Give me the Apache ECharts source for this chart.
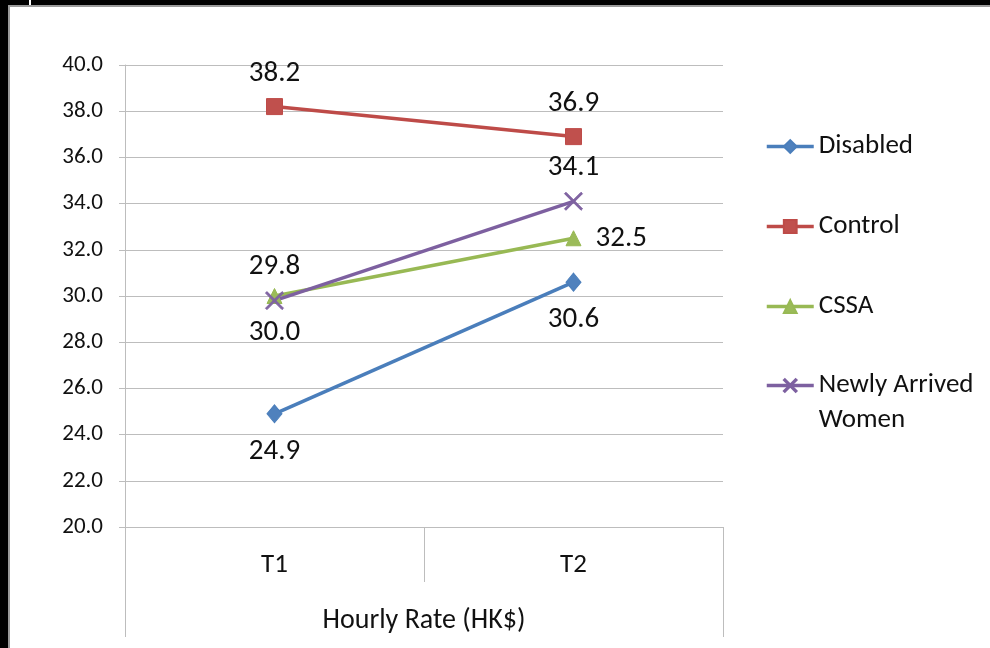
<!DOCTYPE html>
<html>
<head>
<meta charset="utf-8">
<style>
  html, body { margin: 0; padding: 0; background: #fff; }
  #chart { width: 990px; height: 648px; }
</style>
<script src="https://cdn.jsdelivr.net/npm/echarts@6/dist/echarts.min.js"></script>
</head>
<body>
<div id="chart"></div>
<script>
// Hourly rate by group, two time points
const categories = ['T1', 'T2'];
const groupTitle = 'Hourly Rate (HK$)';
const disabled = [24.9, 30.6];
const control = [38.2, 36.9];
const cssa = [30.0, 32.5];
const newlyArrived = [29.8, 34.1];
const yTicks = { min: 20, max: 40, step: 2 };

const FONT = 'Carlito, Lato, sans-serif';
const GRID_COLOR = '#bdbdbd';
const TEXT_COLOR = '#111';

// thin "x" marker
const crossPath = 'path://M0,0.8L0.8,0L10,9.2L9.2,10Z M9.2,0L10,0.8L0.8,10L0,9.2Z';

// label placement per point; labels below or beside a mark sit a little further out
function withLabels(values, positions) {
  return values.map((v, i) => ({
    value: v,
    label: { position: positions[i], distance: positions[i] === 'top' ? 10 : 14 }
  }));
}

function lineSeries(name, values, positions, lineColor, markColor, symbol, size) {
  return {
    name: name,
    type: 'line',
    data: withLabels(values, positions),
    symbol: symbol,
    symbolSize: size,
    showAllSymbol: true,
    lineStyle: { color: lineColor, width: 3.5 },
    itemStyle: { color: markColor, borderColor: lineColor, borderWidth: 1 },
    label: {
      show: true,
      fontFamily: FONT,
      fontSize: 29,
      color: TEXT_COLOR,
      formatter: p => p.value.toFixed(1)
    },
    emphasis: { disabled: true },
    z: 3
  };
}

function legendAt(name, top, formatter) {
  return {
    data: [name],
    orient: 'vertical',
    left: 765,
    top: top,
    padding: 0,
    itemWidth: 47,
    itemHeight: 16,
    selectedMode: false,
    formatter: formatter || '{name}',
    lineStyle: { width: 3.5 },
    textStyle: {
      fontFamily: FONT,
      fontSize: 27,
      lineHeight: 35,
      color: TEXT_COLOR
    }
  };
}

const chart = echarts.init(document.getElementById('chart'), null, { renderer: 'canvas' });

chart.setOption({
  backgroundColor: '#fff',
  animation: false,
  graphic: [
    // dark frame along top and left edges
    { type: 'rect', shape: { x: 0, y: 0, width: 990, height: 5 }, style: { fill: '#000' }, z: 10 },
    { type: 'rect', shape: { x: 0, y: 5, width: 990, height: 2 }, style: { fill: '#9a9a9a' }, z: 10 },
    { type: 'rect', shape: { x: 0, y: 0, width: 8, height: 648 }, style: { fill: '#000' }, z: 11 },
    { type: 'rect', shape: { x: 8, y: 5, width: 2, height: 643 }, style: { fill: '#9a9a9a' }, z: 11 },
    { type: 'rect', shape: { x: 29, y: 0, width: 2, height: 5 }, style: { fill: '#fff' }, z: 12 }
  ],
  grid: { left: 125, right: 267, top: 65, bottom: 121, containLabel: false },
  legend: [
    legendAt('Disabled', 129),
    legendAt('Control', 209),
    legendAt('CSSA', 289),
    // leading blank line keeps the icon level with the first text line
    legendAt('Newly Arrived\nWomen', 333, name => ' \n' + name)
  ],
  xAxis: [
    {
      type: 'category',
      data: categories,
      position: 'bottom',
      boundaryGap: true,
      axisLine: { show: true, lineStyle: { color: GRID_COLOR, width: 1 } },
      axisTick: { show: true, alignWithLabel: false, length: 55, lineStyle: { color: GRID_COLOR } },
      axisLabel: { margin: 25, fontFamily: FONT, fontSize: 27, color: TEXT_COLOR },
      splitLine: { show: false }
    },
    {
      type: 'category',
      data: [groupTitle],
      position: 'bottom',
      boundaryGap: true,
      axisLine: { show: false },
      axisTick: { show: true, alignWithLabel: false, length: 110, lineStyle: { color: GRID_COLOR } },
      axisLabel: { margin: 80, fontFamily: FONT, fontSize: 28, color: TEXT_COLOR },
      splitLine: { show: false }
    }
  ],
  yAxis: {
    type: 'value',
    min: yTicks.min,
    max: yTicks.max,
    interval: yTicks.step,
    axisLine: { show: true, lineStyle: { color: GRID_COLOR } },
    axisTick: { show: true, length: 6, inside: false, lineStyle: { color: GRID_COLOR } },
    axisLabel: {
      margin: 22,
      fontFamily: FONT,
      fontSize: 23,
      color: TEXT_COLOR,
      formatter: v => v.toFixed(1)
    },
    splitLine: { show: true, lineStyle: { color: GRID_COLOR, width: 1 } }
  },
  series: [
    lineSeries('Disabled', disabled, ['bottom', 'bottom'], '#4A7EBB', '#4F81BD', 'diamond', [15, 18]),
    lineSeries('Control', control, ['top', 'top'], '#BE4B48', '#C0504D', 'rect', 16),
    lineSeries('CSSA', cssa, ['bottom', 'right'], '#98B954', '#9BBB59', 'triangle', 15),
    lineSeries('Newly Arrived\nWomen', newlyArrived, ['top', 'top'], '#7D60A0', '#8064A2', crossPath, 18)
  ]
});
</script>
</body>
</html>
